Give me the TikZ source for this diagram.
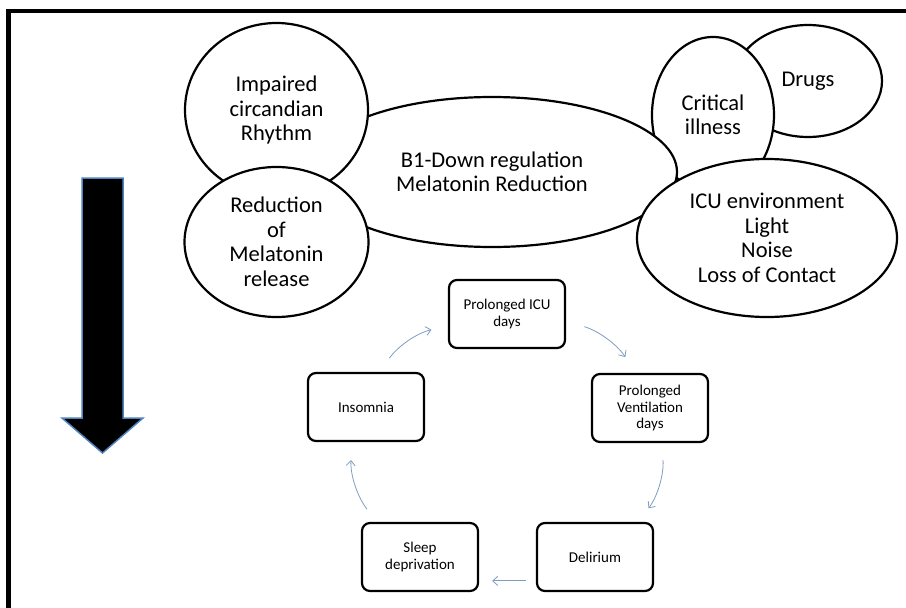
\documentclass[tikz,border=0pt]{standalone}
\usepackage{fontspec}
\setmainfont{Carlito}
\usepackage{xcolor}
\definecolor{cyclink}{HTML}{7F9CC0}
\definecolor{arrowrim}{HTML}{4F81BD}
\usetikzlibrary{shapes.geometric,arrows.meta}
\tikzset{
    semithick,
    bubble/.style ={ellipse, draw=black, line width=2.2pt, fill=white, inner sep=0pt, align=center, font=\fontsize{22.5}{24.5}\selectfont},
    stage/.style = {rectangle, rounded corners=8pt, draw=black, line width=2.2pt, fill=white, minimum width=116pt, minimum height=68pt, align=center, font=\fontsize{15}{16.5}\selectfont},
    loopedge/.style = {cyclink, line width=0.8pt, -{Straight Barb[length=5pt,width=9pt]}},
    bigarrow/.style = {fill=black, draw=arrowrim, line width=1.5pt, line join=miter}
}

\begin{document}
\begin{tikzpicture}[x=1pt,y=1pt]
      \useasboundingbox (0,0) rectangle (906,-608);
      \draw[line width=4.5pt, line join=miter] (8.3,-608) -- (8.3,-11) -- (906,-11);

      % causes
      \node[bubble, minimum width=148pt, minimum height=112pt] (drugs) at (808,-81) {Drugs};
      \node[bubble, minimum width=122pt, minimum height=156pt] (crit) at (713,-115) {Critical\\illness};
      \node[bubble, minimum width=370pt, minimum height=150pt] (mel) at (492,-172) {B1-Down regulation\\Melatonin Reduction};
      \node[bubble, minimum width=260pt, minimum height=158pt] (icuenv) at (767,-238) {ICU environment\\Light\\Noise\\Loss of Contact};
      \node[bubble, minimum width=183pt, minimum height=174pt] (circ) at (276.5,-110) {Impaired\\circandian\\Rhythm};
      \node[bubble, minimum width=184pt, minimum height=150pt] (relo) at (276.5,-242) {Reduction\\of\\Melatonin\\release};

      \draw[bigarrow] (82,-178) -- (123,-178) -- (123,-418) -- (143,-418) -- (102.5,-453) -- (62,-418) -- (82,-418) -- cycle;

      % vicious circle
      \node[stage] (icu) at (507,-314) {Prolonged ICU\\days};
      \node[stage] (vent) at (650,-408) {Prolonged\\Ventilation\\days};
      \node[stage] (del) at (595,-557) {Delirium};
      \node[stage] (sleep) at (420,-557) {Sleep\\deprivation};
      \node[stage] (insom) at (366,-407) {Insomnia};

      \path[loopedge] (insom.69) edge[bend left=20, shorten <=17pt, shorten >=17pt] (icu.191);
      \path[loopedge] (icu.353) edge[bend left=20, shorten <=19pt, shorten >=19pt] (vent.112);
      \path[loopedge] (vent.289) edge[bend left=20, shorten <=17pt, shorten >=17pt] (del.39);
      \path[loopedge] (del.202) edge[shorten <=10pt, shorten >=13pt] (sleep.338);
      \path[loopedge] (sleep.141) edge[bend left=20, shorten <=16pt, shorten >=18pt] (insom.248);
    \end{tikzpicture}
\end{document}
